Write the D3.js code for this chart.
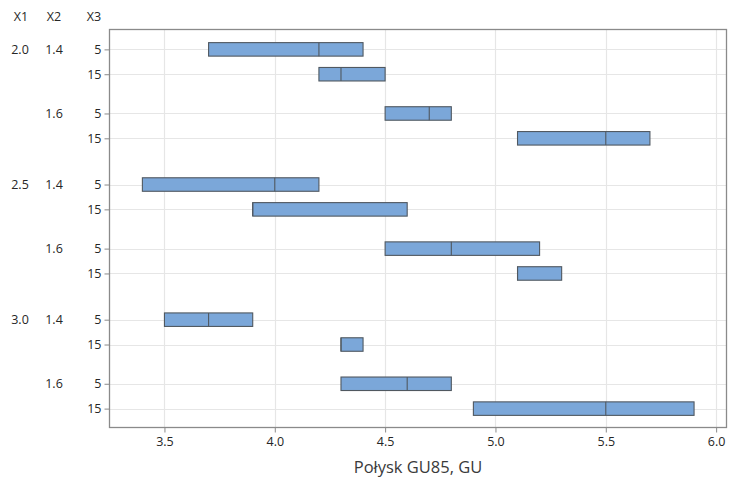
<!DOCTYPE html>
<html>
<head>
<meta charset="utf-8">
<script src="https://cdn.jsdelivr.net/npm/d3@7/dist/d3.min.js"></script>
<style>
  html, body { margin: 0; padding: 0; background: #ffffff; }
  svg { display: block; font-family: "Open Sans", "Noto Sans", sans-serif; }
</style>
</head>
<body>
<svg id="chart" width="729" height="482"></svg>
<script>
// Factor levels (nested: X1 > X2 > X3)
const x1Levels = ["2.0", "2.5", "3.0"];
const x2Levels = ["1.4", "1.6"];
const x3Levels = ["5", "15"];

// Box extents and medians per cell, in X1/X2/X3 order
const lowValues    = [3.7, 4.2, 4.5, 5.1, 3.4, 3.9, 4.5, 5.1, 3.5, 4.3, 4.3, 4.9];
const medianValues = [4.2, 4.3, 4.7, 5.5, 4.0, 3.9, 4.8, 5.1, 3.7, 4.3, 4.6, 5.5];
const highValues   = [4.4, 4.5, 4.8, 5.7, 4.2, 4.6, 5.2, 5.3, 3.9, 4.4, 4.8, 5.9];

const xTicks = [3.5, 4.0, 4.5, 5.0, 5.5, 6.0];
const xTitle = "Połysk GU85, GU";
const headerLabels = ["X1", "X2", "X3"];

const svg = d3.select("#chart");
const plotLeft = 109.5, plotRight = 726.5, plotTop = 29.5, plotBottom = 427.5;
const textColor = "#262626";

// Row layout: each X3 level one step, extra gaps between X2 and X1 groups
const X2_STEP = 2.58, X1_STEP = 5.44;
const rows = [];
x1Levels.forEach((a, i1) => x2Levels.forEach((b, i2) => x3Levels.forEach((c, i3) => {
  const k = rows.length;
  rows.push({
    x1: a, x2: b, x3: c, i1, i2, i3,
    pos: i1 * X1_STEP + i2 * X2_STEP + i3,
    lo: lowValues[k], med: medianValues[k], hi: highValues[k]
  });
})));

const x = d3.scaleLinear().domain([3.251, 6.047]).range([plotLeft, plotRight]);
const lastPos = d3.max(rows, r => r.pos);
const y = d3.scaleLinear().domain([-0.8, lastPos + 0.76]).range([plotTop, plotBottom]);

// Grid
const grid = svg.append("g");
grid.selectAll("line.v").data(xTicks).join("line")
  .attr("x1", d => Math.round(x(d)) + 0.5).attr("x2", d => Math.round(x(d)) + 0.5)
  .attr("y1", plotTop).attr("y2", plotBottom)
  .attr("stroke", "#e6e6e6").attr("stroke-width", 1.2);
grid.selectAll("line.h").data(rows).join("line")
  .attr("x1", plotLeft).attr("x2", plotRight)
  .attr("y1", d => Math.round(y(d.pos)) + 0.5).attr("y2", d => Math.round(y(d.pos)) + 0.5)
  .attr("stroke", "#e6e6e6").attr("stroke-width", 1.2);

// Frame
svg.append("rect")
  .attr("x", plotLeft).attr("y", plotTop)
  .attr("width", plotRight - plotLeft).attr("height", plotBottom - plotTop)
  .attr("fill", "none").attr("stroke", "#8a8a8a").attr("stroke-width", 1.3);

// Bottom axis
const xAxis = svg.append("g").attr("transform", `translate(0,${plotBottom})`)
  .call(d3.axisBottom(x).tickValues(xTicks).tickFormat(d3.format(".1f"))
    .tickSizeOuter(0).tickSize(5).tickPadding(5));
xAxis.select(".domain").remove();
xAxis.selectAll(".tick line").attr("stroke", "#8a8a8a");
xAxis.selectAll(".tick text").attr("font-size", 12.5).attr("fill", textColor)
  .attr("font-family", "'Open Sans', sans-serif");

// Left axis with X3 labels
const yAxis = svg.append("g").attr("transform", `translate(${plotLeft},0)`)
  .call(d3.axisLeft(y).tickValues(rows.map(r => r.pos))
    .tickFormat((d, i) => rows[i].x3).tickSizeOuter(0).tickSize(5).tickPadding(3));
yAxis.select(".domain").remove();
yAxis.selectAll(".tick line").attr("stroke", "#8a8a8a");
yAxis.selectAll(".tick text").attr("font-size", 12.5).attr("fill", textColor)
  .attr("font-family", "'Open Sans', sans-serif");

// X1 and X2 group labels
const labelStyle = sel => sel.attr("font-size", 12.5).attr("fill", textColor)
  .attr("text-anchor", "middle").attr("dy", "0.35em");
svg.append("g").selectAll("text").data(rows.filter(r => r.i2 === 0 && r.i3 === 0)).join("text")
  .attr("x", 20).attr("y", d => y(d.pos)).text(d => d.x1).call(labelStyle);
svg.append("g").selectAll("text").data(rows.filter(r => r.i3 === 0)).join("text")
  .attr("x", 54).attr("y", d => y(d.pos)).text(d => d.x2).call(labelStyle);

// Header
svg.append("g").selectAll("text").data(headerLabels).join("text")
  .attr("x", (d, i) => [21, 54, 94][i]).attr("y", 17).text(d => d)
  .call(labelStyle);

// Boxes
const boxH = 13.5;
const boxes = svg.append("g");
boxes.selectAll("rect").data(rows).join("rect")
  .attr("x", d => x(d.lo)).attr("width", d => x(d.hi) - x(d.lo))
  .attr("y", d => y(d.pos) - boxH / 2).attr("height", boxH)
  .attr("fill", "#7ba7d9").attr("stroke", "#505860").attr("stroke-width", 1.1);
boxes.selectAll("line").data(rows).join("line")
  .attr("x1", d => x(d.med)).attr("x2", d => x(d.med))
  .attr("y1", d => y(d.pos) - boxH / 2).attr("y2", d => y(d.pos) + boxH / 2)
  .attr("stroke", "#505860").attr("stroke-width", 1.1);

// Axis title
svg.append("text")
  .attr("x", (plotLeft + plotRight) / 2).attr("y", 473)
  .attr("text-anchor", "middle").attr("font-size", 16.5).attr("fill", "#3a3a3a")
  .text(xTitle);
</script>
</body>
</html>
